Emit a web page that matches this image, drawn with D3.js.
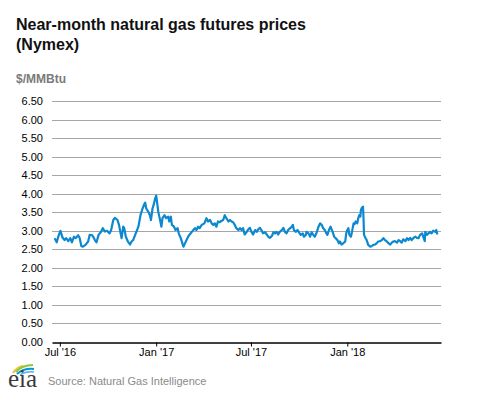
<!DOCTYPE html>
<html>
<head>
<meta charset="utf-8">
<script src="https://cdn.jsdelivr.net/npm/d3@7"></script>
<style>
  html, body { margin: 0; padding: 0; background: #fff; }
  svg { display: block; font-family: Arial, "Liberation Sans", sans-serif; }
</style>
</head>
<body>
<svg id="chart" width="477" height="393"></svg>
<script>
// near-month prices, $/MMBtu
const dates = [
  '2016-06-21','2016-06-25','2016-06-28','2016-07-02','2016-07-06','2016-07-10','2016-07-13','2016-07-17',
  '2016-07-21','2016-07-24','2016-07-28','2016-07-31','2016-08-05','2016-08-08','2016-08-11','2016-08-14',
  '2016-08-19','2016-08-24','2016-08-27','2016-09-01','2016-09-06','2016-09-09','2016-09-13','2016-09-18',
  '2016-09-21','2016-09-25','2016-09-29','2016-10-04','2016-10-07','2016-10-11','2016-10-14','2016-10-19',
  '2016-10-22','2016-10-25','2016-10-27','2016-10-30','2016-11-01','2016-11-04','2016-11-08','2016-11-12',
  '2016-11-15','2016-11-18','2016-11-23','2016-11-28','2016-12-02','2016-12-06','2016-12-09','2016-12-11',
  '2016-12-13','2016-12-17','2016-12-20','2016-12-22','2016-12-25','2016-12-27','2016-12-30','2017-01-01',
  '2017-01-03','2017-01-05','2017-01-09','2017-01-11','2017-01-13','2017-01-17','2017-01-20','2017-01-24',
  '2017-01-26','2017-01-29','2017-01-31','2017-02-04','2017-02-07','2017-02-11','2017-02-13','2017-02-17',
  '2017-02-20','2017-02-22','2017-02-25','2017-02-28','2017-03-03','2017-03-06','2017-03-10','2017-03-13',
  '2017-03-16','2017-03-19','2017-03-22','2017-03-25','2017-03-29','2017-04-03','2017-04-07','2017-04-10',
  '2017-04-14','2017-04-17','2017-04-20','2017-04-23','2017-04-26','2017-04-29','2017-05-02','2017-05-06',
  '2017-05-09','2017-05-12','2017-05-15','2017-05-19','2017-05-22','2017-05-25','2017-05-28','2017-05-31',
  '2017-06-03','2017-06-07','2017-06-10','2017-06-13','2017-06-16','2017-06-19','2017-06-23','2017-06-26',
  '2017-06-29','2017-07-02','2017-07-05','2017-07-09','2017-07-12','2017-07-15','2017-07-18','2017-07-21',
  '2017-07-24','2017-07-28','2017-07-31','2017-08-03','2017-08-06','2017-08-10','2017-08-13','2017-08-16',
  '2017-08-19','2017-08-22','2017-08-25','2017-08-29','2017-09-01','2017-09-04','2017-09-07','2017-09-10',
  '2017-09-14','2017-09-17','2017-09-19','2017-09-21','2017-09-25','2017-09-28','2017-10-02','2017-10-04',
  '2017-10-08','2017-10-10','2017-10-14','2017-10-15','2017-10-19','2017-10-22','2017-10-25','2017-10-28',
  '2017-10-31','2017-11-04','2017-11-07','2017-11-10','2017-11-13','2017-11-16','2017-11-19','2017-11-22',
  '2017-11-24','2017-11-27','2017-11-30','2017-12-04','2017-12-07','2017-12-10','2017-12-13','2017-12-16',
  '2017-12-18','2017-12-21','2017-12-24','2017-12-28','2017-12-30','2018-01-01','2018-01-03','2018-01-05',
  '2018-01-08','2018-01-10','2018-01-13','2018-01-15','2018-01-17','2018-01-20','2018-01-22','2018-01-24',
  '2018-01-26','2018-01-27','2018-01-29','2018-01-31','2018-02-01','2018-02-02','2018-02-05','2018-02-07',
  '2018-02-10','2018-02-14','2018-02-17','2018-02-20','2018-02-23','2018-02-26','2018-03-01','2018-03-05',
  '2018-03-08','2018-03-11','2018-03-14','2018-03-17','2018-03-21','2018-03-24','2018-03-27','2018-03-30',
  '2018-04-02','2018-04-06','2018-04-09','2018-04-12','2018-04-15','2018-04-18','2018-04-22','2018-04-25',
  '2018-04-28','2018-05-01','2018-05-04','2018-05-07','2018-05-11','2018-05-14','2018-05-17','2018-05-20',
  '2018-05-24','2018-05-26','2018-05-29','2018-05-30','2018-06-02','2018-06-05','2018-06-08','2018-06-11',
  '2018-06-14','2018-06-18','2018-06-20','2018-06-22'
];
const prices = [
  2.80,2.69,2.84,3.00,2.82,2.75,2.80,2.72,
  2.80,2.69,2.84,2.80,2.88,2.80,2.59,2.57,
  2.62,2.71,2.89,2.88,2.75,2.69,2.89,2.98,
  3.07,2.98,3.00,2.93,3.02,3.29,3.35,3.29,
  3.16,2.93,2.80,3.11,3.07,2.84,2.71,2.63,
  2.71,2.75,2.93,3.11,3.42,3.60,3.71,3.76,
  3.60,3.51,3.42,3.29,3.60,3.69,3.87,3.95,
  3.74,3.51,3.25,3.11,3.34,3.42,3.34,3.38,
  3.25,3.38,3.16,3.11,3.02,3.07,2.93,2.80,
  2.66,2.57,2.66,2.75,2.84,2.90,2.97,3.02,
  3.07,3.02,3.11,3.07,3.16,3.20,3.34,3.25,
  3.29,3.20,3.16,3.20,3.11,3.25,3.23,3.27,
  3.29,3.42,3.34,3.25,3.29,3.25,3.23,3.16,
  3.07,3.02,3.07,3.02,3.07,2.90,2.97,3.04,
  3.08,2.97,2.90,3.02,2.97,3.04,3.08,3.02,
  2.93,2.96,2.90,2.84,2.81,2.86,2.96,2.93,
  2.97,2.90,2.97,3.02,3.08,2.97,2.93,3.02,
  3.07,3.11,3.16,3.02,2.97,3.02,2.93,2.89,
  2.93,2.84,2.89,2.97,2.93,2.84,2.96,2.89,
  2.84,2.97,3.11,3.20,3.16,3.07,3.02,2.93,
  2.89,3.02,3.11,2.97,2.84,2.80,2.75,2.66,
  2.71,2.63,2.66,2.71,2.93,3.02,3.07,2.89,
  2.84,2.97,3.20,3.18,3.25,3.20,3.34,3.42,
  3.38,3.56,3.62,3.65,3.34,2.89,2.80,2.75,
  2.62,2.57,2.59,2.62,2.63,2.66,2.71,2.72,
  2.75,2.80,2.75,2.72,2.66,2.63,2.68,2.71,
  2.72,2.68,2.75,2.72,2.68,2.77,2.72,2.80,
  2.75,2.81,2.75,2.80,2.84,2.81,2.80,2.89,
  2.93,2.84,2.72,2.97,2.89,2.93,2.97,2.93,
  3.00,2.97,3.02,2.90
];
const xTickDates = ['2016-07-01', '2017-01-01', '2017-07-01', '2018-01-01'];
const xTickLabels = ["Jul '16", "Jan '17", "Jul '17", "Jan '18"];
const yTicks = [0, 0.5, 1, 1.5, 2, 2.5, 3, 3.5, 4, 4.5, 5, 5.5, 6, 6.5];

const parseDate = d3.utcParse('%Y-%m-%d');
const data = dates.map((d, i) => ({ date: parseDate(d), value: prices[i] }));

const margin = { top: 101, right: 36, bottom: 51, left: 52 };
const fullWidth = 477, fullHeight = 393;
const width = fullWidth - margin.left - margin.right;
const height = fullHeight - margin.top - margin.bottom;

const svg = d3.select('#chart');

// title + unit
svg.append('text')
  .attr('x', 16).attr('y', 30)
  .style('font-size', '16px').style('font-weight', 'bold').attr('fill', '#111')
  .text('Near-month natural gas futures prices');
svg.append('text')
  .attr('x', 16).attr('y', 50)
  .style('font-size', '16px').style('font-weight', 'bold').attr('fill', '#111')
  .text('(Nymex)');
svg.append('text')
  .attr('x', 16).attr('y', 83)
  .style('font-size', '12px').style('font-weight', 'bold').attr('fill', '#7a7a7a')
  .text('$/MMBtu');

const g = svg.append('g')
  .attr('transform', 'translate(' + margin.left + ',' + margin.top + ')');

const x = d3.scaleUtc()
  .domain([parseDate('2016-06-16'), parseDate('2018-06-29')])
  .range([0, width]);
const y = d3.scaleLinear()
  .domain([0, 6.5])
  .range([height, 0]);

// gridlines
g.append('g')
  .selectAll('line')
  .data(yTicks.filter(d => d > 0))
  .join('line')
  .attr('x1', 0).attr('x2', width)
  .attr('y1', d => Math.round(y(d)) + 0.5).attr('y2', d => Math.round(y(d)) + 0.5)
  .attr('stroke', '#a6a6a6').attr('stroke-width', 1);

// y labels
const yAxis = d3.axisLeft(y)
  .tickValues(yTicks)
  .tickFormat(d3.format('.2f'))
  .tickSize(0)
  .tickPadding(9);
g.append('g')
  .call(yAxis)
  .call(s => s.select('.domain').remove())
  .selectAll('text')
  .style('font-size', '11px')
  .style('font-family', 'Arial, "Liberation Sans", sans-serif')
  .attr('fill', '#000');

// x axis
const xAxis = d3.axisBottom(x)
  .tickValues(xTickDates.map(parseDate))
  .tickFormat((d, i) => xTickLabels[i])
  .tickSizeOuter(0)
  .tickSizeInner(4)
  .tickPadding(2);
const xg = g.append('g')
  .attr('transform', 'translate(0,' + (Math.round(y(0)) + 0.5) + ')')
  .call(xAxis);
xg.select('.domain').attr('stroke', '#000').attr('stroke-width', 1.5);
xg.selectAll('.tick line').attr('stroke', '#000');
xg.selectAll('text')
  .style('font-size', '11px')
  .style('font-family', 'Arial, "Liberation Sans", sans-serif')
  .attr('fill', '#000');

// price line
const line = d3.line()
  .x(d => x(d.date))
  .y(d => y(d.value));
g.append('path')
  .datum(data)
  .attr('d', line)
  .attr('fill', 'none')
  .attr('stroke', '#0b88d0')
  .attr('stroke-width', 2.2)
  .attr('stroke-linejoin', 'round');

// eia logo
const logo = svg.append('g').attr('transform', 'translate(8,362)');
logo.append('path')
  .attr('d', 'M5,11 Q9,5 15,4')
  .attr('fill', 'none').attr('stroke', '#f2c230').attr('stroke-width', 2.2);
logo.append('path')
  .attr('d', 'M8,10 Q14,3 25,3')
  .attr('fill', 'none').attr('stroke', '#8cc63f').attr('stroke-width', 2.2);
logo.append('path')
  .attr('d', 'M9,12 Q16,6 26,7')
  .attr('fill', 'none').attr('stroke', '#0096d7').attr('stroke-width', 2);
logo.append('path')
  .attr('d', 'M12,13 Q18,9 26,10')
  .attr('fill', 'none').attr('stroke', '#5bb4e0').attr('stroke-width', 1.4);
logo.append('text')
  .attr('x', 0).attr('y', 25)
  .style('font-family', '"Liberation Serif", "DejaVu Serif", serif')
  .style('font-size', '25px')
  .attr('fill', '#3a3a3a')
  .text('eia');

svg.append('text')
  .attr('x', 48).attr('y', 385)
  .style('font-size', '11px').attr('fill', '#8a8a8a')
  .text('Source: Natural Gas Intelligence');
</script>
</body>
</html>
